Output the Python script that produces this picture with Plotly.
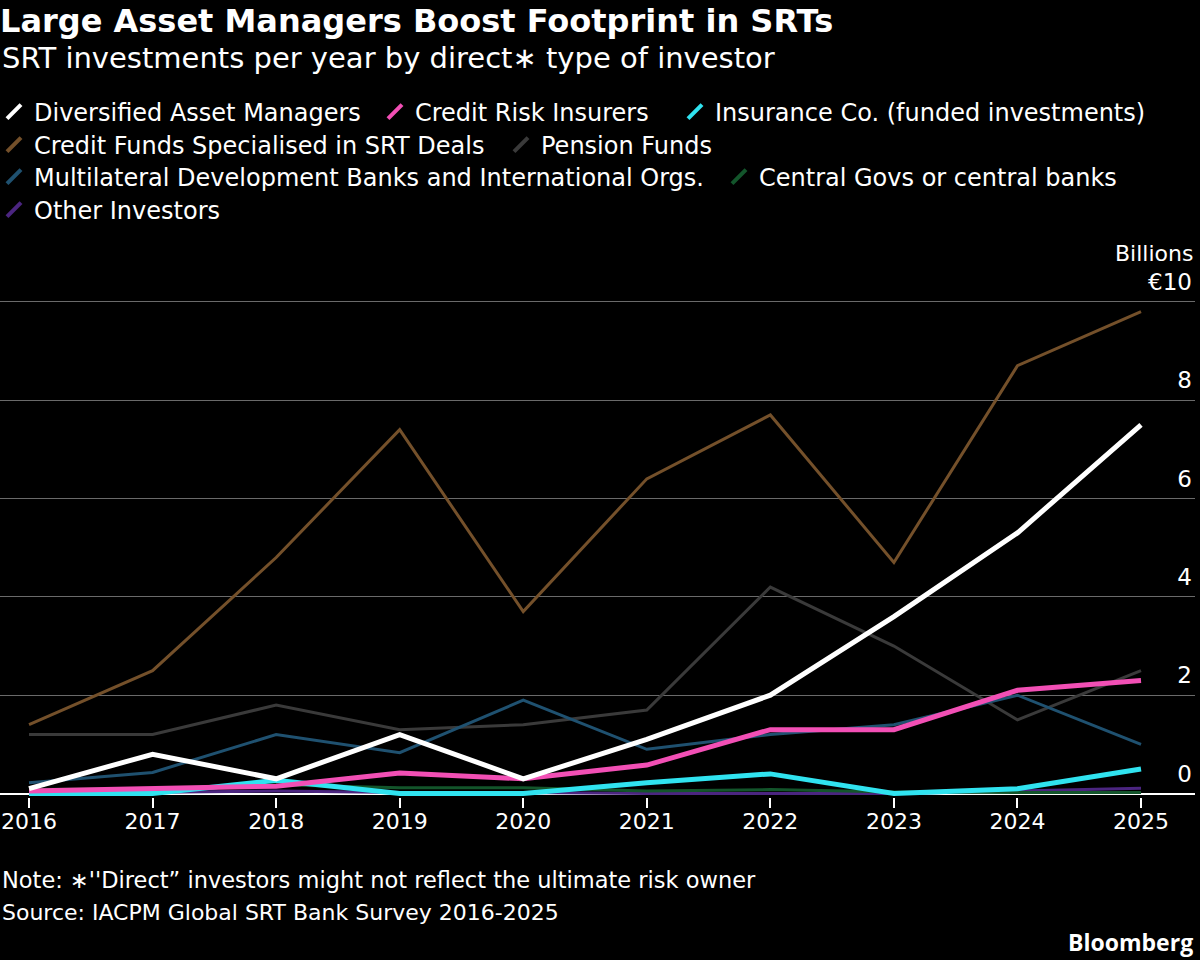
import plotly.graph_objects as go

years = [2016, 2017, 2018, 2019, 2020, 2021, 2022, 2023, 2024, 2025]

diversified_asset_managers = [0.1, 0.8, 0.3, 1.2, 0.3, 1.1, 2.0, 3.6, 5.3, 7.5]
credit_risk_insurers = [0.05, 0.1, 0.15, 0.42, 0.3, 0.58, 1.3, 1.3, 2.1, 2.3]
insurance_co_funded = [0.0, 0.0, 0.27, 0.0, 0.0, 0.22, 0.4, 0.0, 0.1, 0.5]
credit_funds_srt = [1.4, 2.5, 4.8, 7.4, 3.7, 6.4, 7.7, 4.7, 8.7, 9.8]
pension_funds = [1.2, 1.2, 1.8, 1.3, 1.4, 1.7, 4.2, 3.0, 1.5, 2.5]
multilateral_dev_banks = [0.22, 0.43, 1.2, 0.83, 1.9, 0.9, 1.2, 1.4, 2.0, 1.0]
central_govs = [0.08, 0.1, 0.18, 0.12, 0.12, 0.05, 0.08, 0.03, 0.02, 0.02]
other_investors = [0.0, 0.02, 0.05, 0.02, 0.02, 0.0, 0.0, 0.0, 0.05, 0.11]

y_tick_vals = [0, 2, 4, 6, 8, 10]
y_tick_text = ["0", "2", "4", "6", "8", "€10"]

FONT = "DejaVu Sans"
W, H = 1200, 960
M_L, M_R, M_T, M_B = 0, 5, 262, 163
PLOT_W = W - M_L - M_R
PLOT_H = H - M_T - M_B


def ypaper(pixel_y):
    return (H - M_B - pixel_y) / PLOT_H


# (name, values, color, width, legend id, text x, row y)
series = [
    ("Other Investors", other_investors, "#4b2580", 3, "legend8", 34, 210),
    ("Central Govs or central banks", central_govs, "#13552b", 3, "legend7", 759, 177),
    ("Pension Funds", pension_funds, "#3a3a3a", 3, "legend5", 541, 145),
    ("Multilateral Development Banks and International Orgs.", multilateral_dev_banks, "#1f5170", 3, "legend6", 34, 177),
    ("Credit Funds Specialised in SRT Deals", credit_funds_srt, "#74502a", 3, "legend4", 34, 145),
    ("Insurance Co. (funded investments)", insurance_co_funded, "#30e3f0", 5, "legend3", 715, 112),
    ("Credit Risk Insurers", credit_risk_insurers, "#f24fb5", 5, "legend2", 415, 112),
    ("Diversified Asset Managers", diversified_asset_managers, "#ffffff", 5, "legend", 34, 112),
]

fig = go.Figure()
for name, vals, color, width, leg, tx, ry in series:
    fig.add_trace(go.Scatter(
        x=years, y=vals, mode="lines", name=name,
        line=dict(color=color, width=width),
        showlegend=False, hoverinfo="skip",
    ))

LEG_OFF = 40
legends = {}
for name, vals, color, width, leg, tx, ry in series:
    fig.add_trace(go.Scatter(
        x=[None], y=[None], mode="markers", name=name,
        marker=dict(symbol="line-ne", size=14, color=color,
                    line=dict(color=color, width=4)),
        legend=leg, showlegend=True,
    ))
    legends[leg] = dict(
        orientation="h", xref="paper", yref="container",
        x=(tx - LEG_OFF - M_L) / PLOT_W, y=1 - ry / H, xanchor="left", yanchor="middle",
        font=dict(family=FONT, size=24, color="#ffffff"),
        bgcolor="rgba(0,0,0,0)", borderwidth=0,
    )

fig.update_layout(**legends)

fig.update_layout(
    width=W, height=H,
    margin=dict(l=M_L, r=M_R, t=M_T, b=M_B, pad=0, autoexpand=False),
    paper_bgcolor="#000000", plot_bgcolor="#000000",
    font=dict(family=FONT, color="#ffffff"),
    title=dict(
        text="<b>Large Asset Managers Boost Footprint in SRTs</b>",
        x=0, xref="container", xanchor="left",
        y=1 - 21 / H, yref="container", yanchor="middle",
        font=dict(family=FONT, size=32, color="#ffffff"),
    ),
    xaxis=dict(
        range=[2015.765, 2025.437], tickvals=years,
        ticktext=[str(y) for y in years],
        showgrid=False, zeroline=False, showline=False,
        ticks="outside", ticklen=10, tickwidth=2, tickcolor="#ffffff",
        ticklabelstandoff=-5,
        tickfont=dict(family=FONT, size=22, color="#ffffff"),
    ),
    yaxis=dict(
        range=[-0.07, 10.81], side="right",
        tickvals=y_tick_vals, ticktext=y_tick_text,
        ticklabelposition="inside", ticklabelshift=-20, ticklabelstandoff=0,
        showgrid=True, gridcolor="#6a6a6a", gridwidth=1,
        zeroline=True, zerolinecolor="#ffffff", zerolinewidth=2,
        showline=False, ticks="",
        tickfont=dict(family=FONT, size=23, color="#ffffff"),
    ),
    showlegend=True,
)

annotations = [
    dict(text="SRT investments per year by direct∗ type of investor",
         x=0, y=ypaper(58), xanchor="left", yanchor="middle",
         font=dict(family=FONT, size=29, color="#ffffff")),
    dict(text="Billions", x=1, y=ypaper(253), xanchor="right", yanchor="middle",
         font=dict(family=FONT, size=22, color="#ffffff")),
    dict(text="Note: ∗''Direct” investors might not reflect the ultimate risk owner",
         x=0, y=ypaper(880), xanchor="left", yanchor="middle",
         font=dict(family=FONT, size=22.5, color="#ffffff")),
    dict(text="Source: IACPM Global SRT Bank Survey 2016-2025",
         x=0, y=ypaper(912), xanchor="left", yanchor="middle",
         font=dict(family=FONT, size=22, color="#ffffff")),
    dict(text="<b>Bloomberg</b>", x=1, y=ypaper(942), xanchor="right", yanchor="middle",
         font=dict(family="Open Sans", size=23, color="#ffffff")),
]
for a in annotations:
    a.update(xref="paper", yref="paper", showarrow=False)
fig.update_layout(annotations=annotations)

fig.write_html("out.html")
